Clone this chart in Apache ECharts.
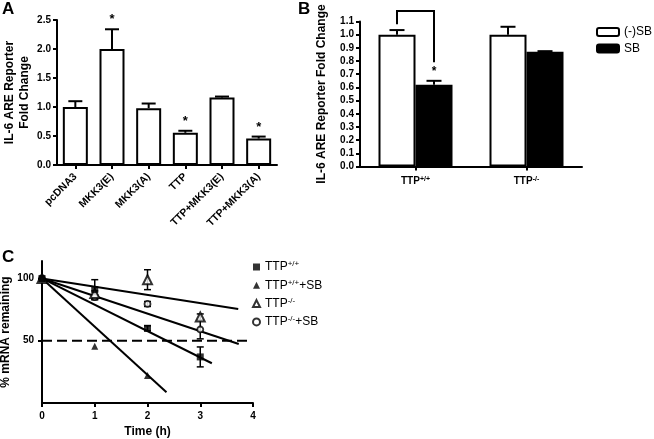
<!DOCTYPE html>
<html><head><meta charset="utf-8">
<script src="https://cdn.jsdelivr.net/npm/echarts@6/dist/echarts.min.js"></script>
<style>html,body{margin:0;padding:0;background:#fff}#c{width:654px;height:439px}</style>
</head><body><div id="c"></div>
<script>
// ---------- DATA ----------
// Panel A
const catsA = ['pcDNA3', 'MKK3(E)', 'MKK3(A)', 'TTP', 'TTP+MKK3(E)', 'TTP+MKK3(A)'];
const meanA = [1.00, 2.00, 0.98, 0.555, 1.165, 0.455];
const errA  = [0.10, 0.34, 0.08, 0.035, 0.015, 0.035];
const sigA  = ['', '*', '', '*', '', '*'];
// Panel B
const catsB = ['TTP+/+', 'TTP-/-'];
const noSB     = [1.00, 1.00];
const noSBErr  = [0.035, 0.06];
const withSB    = [0.62, 0.87];
const withSBErr = [0.03, 0.005];
const bracketB = [0, 1.08, 1.18, 0.79]; // category, left end, top, right end
// Panel C
const timeC = [0, 1, 2, 3];
const wt      = [100, 91, 60, 37];
const wtErr   = [0, 8, 2, 8];
const wtSB    = [100, 45.5, 22];
const ko      = [100, 88, 99, 69];
const koErr   = [0, 2, 8, 2.5];
const koSB    = [100, 85, 79.5, 59];
const koSBErr = [0, 2, 2, 7.5];
const fitWt   = [[0, 100], [3.22, 31.9]];
const fitWtSB = [[0, 100], [2.36, 8.7]];
const fitKo   = [[0, 100], [3.72, 75.4]];
const fitKoSB = [[0, 100], [3.73, 47.4]];
const halfLine = [[0, 50], [3.94, 50]];
const namesC = ['TTP+/+', 'TTP+/++SB', 'TTP-/-', 'TTP-/-+SB'];

// ---------- STYLE ----------
const FONT = 'Arial, "Liberation Sans", sans-serif';
const BAR_B = 37;
const chart = echarts.init(document.getElementById('c'));

function ttpRich(name) {
  const m = name.match(/^TTP([+-]\/[+-])(.*)$/);
  if (!m) return name;
  return '{a|TTP}{s|' + m[1] + '}' + (m[2] ? '{a|' + m[2] + '}' : '');
}
const richNormal = {
  a: {fontFamily: FONT, fontSize: 12, lineHeight: 14, color: '#000'},
  s: {fontFamily: FONT, fontSize: 8, lineHeight: 14, color: '#000', padding: [0, 0, 6, 0]}
};
const richBold = {
  a: {fontFamily: FONT, fontSize: 10, fontWeight: 'bold', lineHeight: 14, color: '#000'},
  s: {fontFamily: FONT, fontSize: 7, fontWeight: 'bold', lineHeight: 14, color: '#000', padding: [0, 0, 5, 0]}
};
const axLine = {show: true, lineStyle: {color: '#000', width: 2}};
const axTick = {show: true, length: 4, lineStyle: {color: '#000', width: 2}};
const boldLbl = {fontFamily: FONT, fontSize: 10, fontWeight: 'bold', color: '#000'};
const nameStyle = {fontFamily: FONT, fontSize: 12, fontWeight: 'bold', color: '#000', lineHeight: 15};

function errBars(xi, yi, pts, capHalf, lw, offset, both, labels) {
  return {
    type: 'custom', xAxisIndex: xi, yAxisIndex: yi, z: 6, silent: true,
    data: pts,
    renderItem(params, api) {
      const x0 = api.value(0);
      const pm = api.coord([x0, api.value(1)]);
      const ph = api.coord([x0, api.value(2)]);
      const pl = api.coord([x0, api.value(3)]);
      const x = pm[0] + offset;
      const ch = [
        {type: 'line', shape: {x1: x, y1: (both ? pl[1] : pm[1]), x2: x, y2: ph[1]}, style: {stroke: '#000', lineWidth: lw}},
        {type: 'line', shape: {x1: x - capHalf, y1: ph[1], x2: x + capHalf, y2: ph[1]}, style: {stroke: '#000', lineWidth: lw}}
      ];
      if (both) ch.push({type: 'line', shape: {x1: x - capHalf, y1: pl[1], x2: x + capHalf, y2: pl[1]}, style: {stroke: '#000', lineWidth: lw}});
      if (labels && labels[params.dataIndex]) {
        ch.push({type: 'text', style: {text: labels[params.dataIndex], x: x, y: ph[1] - 3, align: 'center', verticalAlign: 'bottom',
          font: 'bold 13px ' + FONT, fill: '#000'}});
      }
      return {type: 'group', children: ch};
    }
  };
}

function lineSeries(data, extra) {
  return Object.assign({type: 'line', xAxisIndex: 2, yAxisIndex: 2, data: data, symbol: 'none', silent: true,
    lineStyle: {color: '#000', width: 2}, z: 3, animation: false}, extra || {});
}
function pts(vals) { return vals.map((v, i) => [timeC[i], v]); }
function errPts(vals, errs) { return vals.map((v, i) => [timeC[i], v, v + errs[i], v - errs[i]]).filter((d, i) => errs[i] > 0); }

const scatterBase = {type: 'scatter', xAxisIndex: 2, yAxisIndex: 2, z: 8, animation: false};

const option = {
  animation: false,
  backgroundColor: '#fff',
  textStyle: {fontFamily: FONT},
  graphic: [
    {type: 'text', left: 2, top: 1, style: {text: 'A', font: 'bold 17px ' + FONT, fill: '#000'}},
    {type: 'text', left: 298, top: 1, style: {text: 'B', font: 'bold 17px ' + FONT, fill: '#000'}},
    {type: 'text', left: 2, top: 249, style: {text: 'C', font: 'bold 17px ' + FONT, fill: '#000'}}
  ],
  grid: [
    {left: 57, top: 20, width: 220, height: 145, outerBoundsMode: 'none'},
    {left: 360, top: 21.5, width: 222, height: 145, outerBoundsMode: 'none'},
    {left: 42, top: 261, width: 211, height: 142, outerBoundsMode: 'none'}
  ],
  legend: [
    {data: ['(-)SB', 'SB'], orient: 'vertical', left: 596, top: 25, padding: 0, itemWidth: 22, itemHeight: 8, itemGap: 2.5,
     textStyle: {fontFamily: FONT, fontSize: 12, color: '#000', lineHeight: 14}, selectedMode: false},
    {data: namesC, orient: 'vertical', left: 252, top: 260, padding: 0, itemWidth: 7, itemHeight: 7, itemGap: 4.3,
     formatter: ttpRich, textStyle: {rich: richNormal, fontFamily: FONT, fontSize: 12, color: '#000'}, selectedMode: false}
  ],
  xAxis: [
    {gridIndex: 0, type: 'category', data: catsA, boundaryGap: true, axisLine: axLine,
     axisTick: Object.assign({alignWithLabel: true}, axTick),
     axisLabel: Object.assign({}, boldLbl, {rotate: 45, margin: 10, interval: 0, fontSize: 10.5})},
    {gridIndex: 1, type: 'category', data: catsB, boundaryGap: true, axisLine: axLine,
     axisTick: Object.assign({alignWithLabel: true}, axTick),
     axisLabel: {margin: 8, formatter: ttpRich, rich: richBold}},
    {gridIndex: 2, type: 'value', min: 0, max: 4, interval: 1, axisLine: axLine, axisTick: axTick,
     splitLine: {show: false}, axisLabel: Object.assign({margin: 8}, boldLbl),
     name: 'Time (h)', nameLocation: 'middle', nameGap: 21, nameTextStyle: nameStyle}
  ],
  yAxis: [
    {gridIndex: 0, type: 'value', min: 0, max: 2.5, interval: 0.5, axisLine: axLine, axisTick: axTick,
     splitLine: {show: false}, axisLabel: Object.assign({margin: 6, formatter: v => v.toFixed(1)}, boldLbl),
     name: 'IL-6 ARE Reporter\nFold Change', nameLocation: 'middle', nameGap: 25, nameTextStyle: nameStyle},
    {gridIndex: 1, type: 'value', min: 0, max: 1.1, interval: 0.1, axisLine: axLine, axisTick: axTick,
     splitLine: {show: false}, axisLabel: Object.assign({margin: 6, formatter: v => v.toFixed(1)}, boldLbl),
     name: 'IL-6 ARE Reporter Fold Change', nameLocation: 'middle', nameGap: 31, nameTextStyle: nameStyle},
    {gridIndex: 2, type: 'value', min: 0, max: 114, interval: 50, axisLine: axLine,
     axisTick: Object.assign({customValues: [50, 100]}, axTick),
     splitLine: {show: false}, axisLabel: Object.assign({margin: 8, customValues: [50, 100]}, boldLbl),
     name: '% mRNA remaining', nameLocation: 'middle', nameGap: 29, nameTextStyle: nameStyle}
  ],
  series: [
    // Panel A
    {type: 'bar', xAxisIndex: 0, yAxisIndex: 0, data: meanA, barWidth: 25,
     itemStyle: {color: '#fff', borderColor: '#000', borderWidth: 2}, z: 4},
    errBars(0, 0, meanA.map((m, i) => [i, m, m + errA[i], m]), 7, 2, 0, false, sigA),
    // Panel B
    {type: 'bar', name: '(-)SB', xAxisIndex: 1, yAxisIndex: 1, data: noSB, barWidth: BAR_B, barGap: '0%',
     itemStyle: {color: '#fff', borderColor: '#000', borderWidth: 2}, z: 4},
    {type: 'bar', name: 'SB', xAxisIndex: 1, yAxisIndex: 1, data: withSB, barWidth: BAR_B, barGap: '0%',
     itemStyle: {color: '#000', borderColor: '#000', borderWidth: 2}, z: 4},
    errBars(1, 1, noSB.map((m, i) => [i, m, m + noSBErr[i], m]), 7.5, 2, -BAR_B / 2, false, null),
    errBars(1, 1, withSB.map((m, i) => [i, m, m + withSBErr[i], m]), 7.5, 2, BAR_B / 2, false, null),
    {type: 'custom', xAxisIndex: 1, yAxisIndex: 1, z: 7, silent: true, data: [bracketB],
     renderItem(params, api) {
       const c = api.value(0);
       const pl = api.coord([c, api.value(1)]);
       const pt = api.coord([c, api.value(2)]);
       const pr = api.coord([c, api.value(3)]);
       const xl = pl[0] - BAR_B / 2, xr = pl[0] + BAR_B / 2;
       return {type: 'group', children: [
         {type: 'polyline', shape: {points: [[xl, pl[1]], [xl, pt[1]], [xr, pt[1]], [xr, pr[1]]]},
          style: {stroke: '#000', lineWidth: 2, fill: null}},
         {type: 'text', style: {text: '*', x: xr, y: pr[1] + 3, align: 'center', verticalAlign: 'top',
          font: 'bold 12px ' + FONT, fill: '#000'}}
       ]};
     }},
    // Panel C
    lineSeries(halfLine, {lineStyle: {color: '#000', width: 2, type: [10, 5]}}),
    lineSeries(fitWt), lineSeries(fitWtSB), lineSeries(fitKo), lineSeries(fitKoSB),
    errBars(2, 2, errPts(wt, wtErr), 3.5, 1.5, 0, true, null),
    errBars(2, 2, errPts(ko, koErr), 3.5, 1.5, 0, true, null),
    errBars(2, 2, errPts(koSB, koSBErr), 3.5, 1.5, 0, true, null),
    Object.assign({}, scatterBase, {name: namesC[3], data: pts(koSB), symbol: 'circle', symbolSize: 6,
      itemStyle: {color: '#fff', borderColor: '#000', borderWidth: 1.8}}),
    Object.assign({}, scatterBase, {name: namesC[2], data: pts(ko), symbol: 'triangle', symbolSize: 9,
      itemStyle: {color: '#fff', borderColor: '#000', borderWidth: 2}}),
    Object.assign({}, scatterBase, {name: namesC[1], data: pts(wtSB), symbol: 'triangle', symbolSize: 7,
      itemStyle: {color: '#000', borderColor: '#000', borderWidth: 0}}),
    Object.assign({}, scatterBase, {name: namesC[0], data: pts(wt), symbol: 'rect', symbolSize: 7,
      itemStyle: {color: '#000', borderColor: '#000', borderWidth: 0}}),
    // significance stars in C: at half-life crossing of fitted TTP+/+ +SB line and at its 2 h point
    {type: 'scatter', xAxisIndex: 2, yAxisIndex: 2, z: 9, silent: true, symbol: 'none',
     data: [[(fitWtSB[0][1] - 50) / ((fitWtSB[0][1] - fitWtSB[1][1]) / fitWtSB[1][0]), 50], [timeC[2], wtSB[2]]],
     label: {show: true, formatter: '*', position: 'insideBottomLeft', offset: [6, -2],
       fontFamily: FONT, fontSize: 12, fontWeight: 'bold', color: '#000'}}
  ]
};
chart.setOption(option);
</script>
</body></html>
